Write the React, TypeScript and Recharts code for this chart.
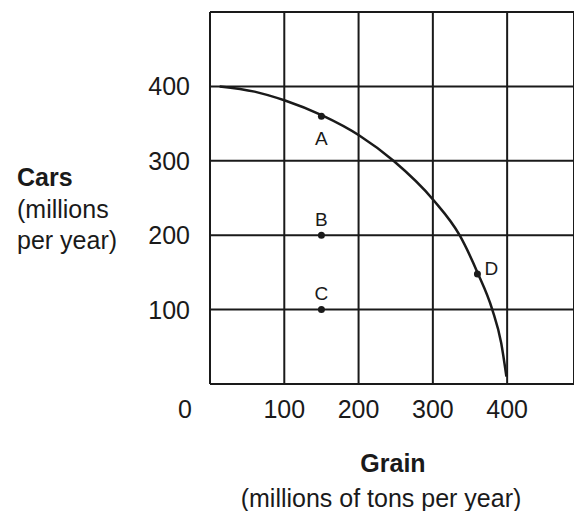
import {
  ComposedChart,
  Line,
  Scatter,
  XAxis,
  YAxis,
  CartesianGrid,
} from 'recharts'

// axis ticks
const grainTicks = [0, 100, 200, 300, 400]
const carsTicks = [0, 100, 200, 300, 400, 500]

// production possibilities frontier
const curveGrain = [13, 60, 101, 151, 201, 247, 301, 336, 360, 380, 392, 399]
const curveCars = [400, 393, 381, 361, 334, 300, 247, 200, 150, 100, 55, 10]

// labelled points
const pointNames = ['A', 'B', 'C', 'D']
const pointGrain = [150, 150, 150, 360]
const pointCars = [360, 200, 100, 148]

const labelSide: Record<string, string> = { A: 'below', B: 'above', C: 'above', D: 'right' }

const curve = curveGrain.map((g, i) => ({ grain: g, cars: curveCars[i] }))
const points = pointNames.map((name, i) => ({
  name,
  grain: pointGrain[i],
  cars: pointCars[i],
}))

const FONT = '"Liberation Sans", Arial, sans-serif'
const INK = '#1a1a1a'

function GrainTick({ x, y, payload }: any) {
  // origin "0" sits left of the corner
  const shift = payload.value === 0 ? -25 : 0
  return (
    <text
      x={x + shift}
      y={y + 25}
      textAnchor="middle"
      dominantBaseline="central"
      fontFamily={FONT}
      fontSize={25}
      fill={INK}
    >
      {payload.value}
    </text>
  )
}

function CarsTick({ x, y, payload }: any) {
  if (payload.value === 0 || payload.value === 500) return null
  return (
    <text
      x={x - 20}
      y={y}
      textAnchor="end"
      dominantBaseline="central"
      fontFamily={FONT}
      fontSize={25}
      fill={INK}
    >
      {payload.value}
    </text>
  )
}

function PointShape({ cx, cy, payload }: any) {
  const side = labelSide[payload.name]
  let lx = cx
  let ly = cy
  let anchor: 'middle' | 'start' = 'middle'
  if (side === 'below') ly = cy + 22
  if (side === 'above') ly = cy - 16
  if (side === 'right') {
    lx = cx + 7
    ly = cy - 5
    anchor = 'start'
  }
  return (
    <g>
      <circle cx={cx} cy={cy} r={3.5} fill={INK} />
      <text
        x={lx}
        y={ly}
        textAnchor={anchor}
        dominantBaseline="central"
        fontFamily={FONT}
        fontSize={19}
        fill={INK}
      >
        {payload.name}
      </text>
    </g>
  )
}

function CarsTitle({ viewBox }: any) {
  const x = viewBox.x + 17
  const top = viewBox.y + 165
  return (
    <g fontFamily={FONT} fontSize={25} fill={INK}>
      <text x={x} y={top} dominantBaseline="central" fontWeight="bold">
        Cars
      </text>
      <text x={x} y={top + 32} dominantBaseline="central">
        (millions
      </text>
      <text x={x} y={top + 63} dominantBaseline="central">
        per year)
      </text>
    </g>
  )
}

function GrainTitle({ viewBox }: any) {
  const cx = viewBox.x + viewBox.width / 2
  const top = viewBox.y + 79
  return (
    <g fontFamily={FONT} fontSize={25} fill={INK} textAnchor="middle">
      <text x={cx + 1} y={top} dominantBaseline="central" fontWeight="bold">
        Grain
      </text>
      <text x={cx - 11} y={top + 35} dominantBaseline="central">
        (millions of tons per year)
      </text>
    </g>
  )
}

export default function App() {
  return (
    <div style={{ position: 'absolute', left: 0, top: 0, width: 574, height: 511, background: '#fff' }}>
      <ComposedChart
        width={574}
        height={511}
        margin={{ top: 12, right: 0, bottom: 0, left: 0 }}
      >
        <CartesianGrid stroke={INK} strokeWidth={2} />
        <XAxis
          dataKey="grain"
          type="number"
          domain={[0, 490]}
          ticks={grainTicks}
          tick={<GrainTick />}
          tickLine={false}
          tickSize={0}
          tickMargin={0}
          height={127}
          axisLine={{ stroke: INK, strokeWidth: 2 }}
          label={<GrainTitle />}
        />
        <YAxis
          dataKey="cars"
          type="number"
          domain={[0, 500]}
          ticks={carsTicks}
          tick={<CarsTick />}
          tickLine={false}
          tickSize={0}
          tickMargin={0}
          width={210}
          axisLine={{ stroke: INK, strokeWidth: 2 }}
          label={<CarsTitle />}
        />
        <Line
          data={curve}
          dataKey="cars"
          type="monotone"
          stroke={INK}
          strokeWidth={2.5}
          dot={false}
          activeDot={false}
          isAnimationActive={false}
        />
        <Scatter
          data={points}
          dataKey="cars"
          shape={<PointShape />}
          isAnimationActive={false}
        />
      </ComposedChart>
    </div>
  )
}
